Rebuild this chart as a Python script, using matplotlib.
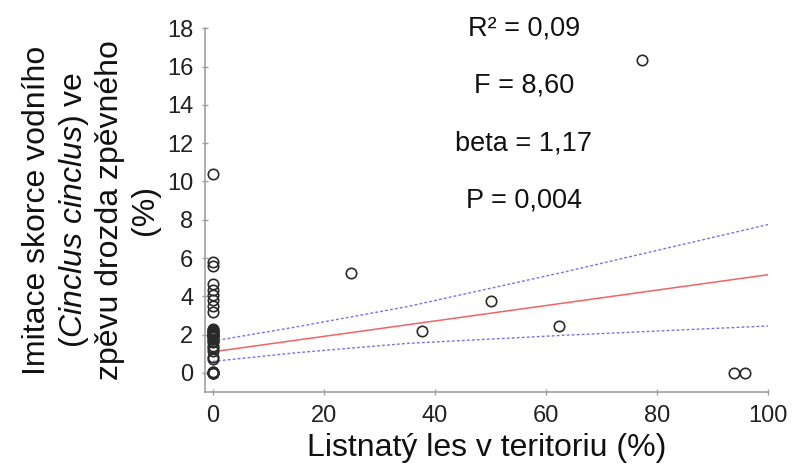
import matplotlib
matplotlib.use('Agg')
import matplotlib.pyplot as plt

plt.rcParams['font.family'] = ['Liberation Sans', 'DejaVu Sans']
plt.rcParams['mathtext.fontset'] = 'custom'
plt.rcParams['mathtext.rm'] = 'Liberation Sans'
plt.rcParams['mathtext.it'] = 'Liberation Sans:italic'

# deciduous forest share in territory (%) vs. dipper imitation in song (%)
forest = [0] * 33 + [24.9, 37.6, 50.0, 62.3, 77.3, 93.8, 95.8]
imitation = [10.4, 5.8, 5.6, 4.65, 4.35, 4.05, 3.8, 3.5, 3.2,
             2.3, 2.25, 2.2, 2.15, 2.1, 2.05, 2.0, 1.95, 1.9, 1.85, 1.75, 1.65, 1.6,
             1.4, 1.3, 1.15, 0.85, 0.7, 0.0, 0.0, 0.05, 0.0, 0.02, 0.0,
             5.2, 2.2, 3.76, 2.45, 16.33, 0.0, 0.0]

# regression line and 95% confidence band
fit_x = [0, 100]
fit_y = [1.10, 5.13]
band_x = [0, 15, 35, 63, 100]
band_upper = [1.66, 2.40, 3.46, 5.25, 7.75]
band_lower = [0.60, 1.05, 1.54, 1.96, 2.45]

stats = ['R² = 0,09', 'F = 8,60', 'beta = 1,17', 'P = 0,004']
stats_y = [18, 15, 12, 9]

fig = plt.figure(figsize=(7.96, 4.70), dpi=100)
ax = fig.add_axes([205 / 796, 1 - 392 / 470, (768.3 - 205) / 796, (392 - 28.3) / 470])

ax.plot(band_x, band_upper, color='#7a70ee', lw=1, ls=(0, (2, 1.6)), zorder=1)
ax.plot(band_x, band_lower, color='#7a70ee', lw=1, ls=(0, (2, 1.6)), zorder=1)
ax.plot(fit_x, fit_y, color='#f06464', lw=1.1, zorder=2)
ax.plot(forest, imitation, 'o', ms=7.5, mfc='none', mec='#2a2a2a', mew=1.2, zorder=3)

for s, y in zip(stats, stats_y):
    ax.text(56, y, s, ha='center', va='center', fontsize=19.5, color='#111111')

ax.set_xlim(-1.4, 100)
ax.set_ylim(-1.0, 18)
ax.set_xticks(range(0, 101, 20))
ax.set_yticks(range(0, 19, 2))

for side in ['top', 'right']:
    ax.spines[side].set_visible(False)
for side in ['left', 'bottom']:
    ax.spines[side].set_color('#a0a0a0')
    ax.spines[side].set_linewidth(1.2)
ax.spines['left'].set_bounds(-1.0, 18)
ax.spines['bottom'].set_bounds(-1.4, 100)

ax.tick_params(axis='both', direction='inout', length=5, width=1, color='#a0a0a0',
               labelsize=17, labelcolor='#222222')
ax.tick_params(axis='x', pad=7)
ax.tick_params(axis='y', pad=6)

ax.set_xlabel('Listnatý les v teritoriu (%)', fontsize=23, color='#111111', labelpad=4)
ax.set_ylabel('Imitace skorce vodního\n($\\mathit{Cinclus\\ cinclus}$) ve\nzpěvu drozda zpěvného\n(%)',
              fontsize=23, color='#111111', linespacing=1.2)
ax.yaxis.set_label_coords(-0.08, 0.5)

fig.savefig('out.png', dpi=100, facecolor='white')
